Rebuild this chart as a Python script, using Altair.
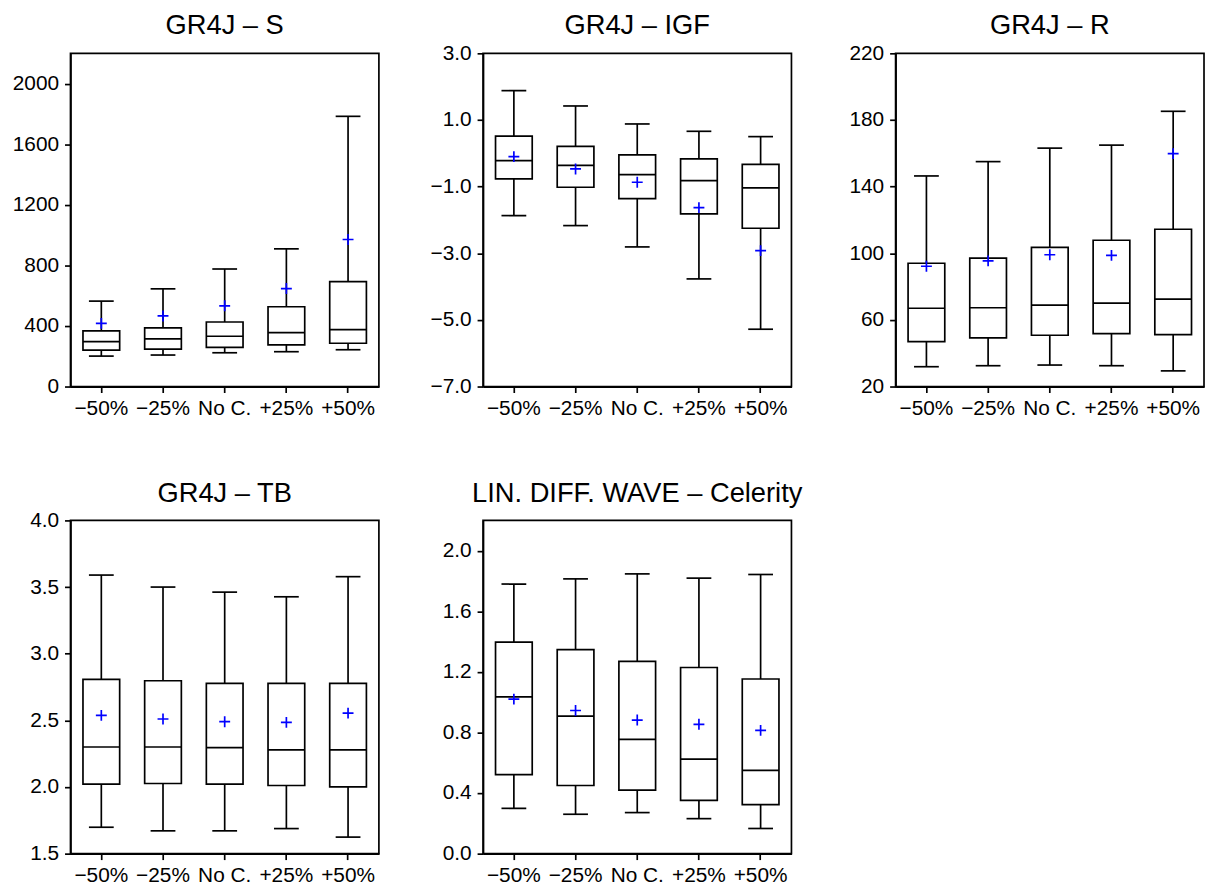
import altair as alt
import pandas as pd

categories = ["\u221250%", "\u221225%", "No C.", "+25%", "+50%"]

# GR4J – S
s_wlo = [201, 208, 223, 230, 243]
s_q1 = [240, 247, 258, 275, 286]
s_med = [297, 315, 332, 356, 376]
s_q3 = [367, 387, 426, 527, 693]
s_whi = [564, 645, 776, 909, 1784]
s_mean = [417, 466, 533, 647, 971]

# GR4J – IGF
igf_wlo = [-1.87, -2.17, -2.81, -3.77, -5.28]
igf_q1 = [-0.77, -1.02, -1.36, -1.82, -2.25]
igf_med = [-0.22, -0.36, -0.64, -0.82, -1.04]
igf_q3 = [0.515, 0.21, -0.05, -0.17, -0.33]
igf_whi = [1.88, 1.42, 0.88, 0.66, 0.50]
igf_mean = [-0.10, -0.47, -0.87, -1.63, -2.92]

# GR4J – R
r_wlo = [31.9, 32.5, 32.9, 32.5, 29.4]
r_q1 = [47.0, 49.2, 50.8, 51.8, 51.2]
r_med = [67.0, 67.3, 68.9, 70.1, 72.5]
r_q3 = [94.0, 97.1, 103.5, 107.8, 114.4]
r_whi = [146.4, 155.0, 163.1, 164.9, 185.2]
r_mean = [92.2, 95.4, 99.1, 98.7, 159.8]

# GR4J – TB
tb_wlo = [1.698, 1.671, 1.671, 1.688, 1.624]
tb_q1 = [2.021, 2.026, 2.021, 2.011, 2.001]
tb_med = [2.30, 2.30, 2.296, 2.279, 2.279]
tb_q3 = [2.807, 2.797, 2.777, 2.777, 2.777]
tb_whi = [3.59, 3.50, 3.462, 3.427, 3.578]
tb_mean = [2.537, 2.51, 2.49, 2.485, 2.554]

# LIN. DIFF. WAVE – Celerity
c_wlo = [0.299, 0.26, 0.271, 0.231, 0.166]
c_q1 = [0.522, 0.45, 0.419, 0.352, 0.323]
c_med = [1.035, 0.908, 0.755, 0.624, 0.550]
c_q3 = [1.397, 1.347, 1.269, 1.229, 1.153]
c_whi = [1.78, 1.814, 1.847, 1.819, 1.843]
c_mean = [1.02, 0.945, 0.882, 0.854, 0.814]

FONT = "Liberation Sans"
PW, PH = 311, 336
LW = 1.7
LFS = 21


def panel(title, wlo, q1, med, q3, whi, mean, domain, ticks, fmt):
    df = pd.DataFrame({"cat": categories, "wlo": wlo, "q1": q1, "med": med,
                       "q3": q3, "whi": whi, "mean": mean})
    x = alt.X("cat:N", sort=categories, title=None,
              scale=alt.Scale(paddingInner=0, paddingOuter=0),
              axis=alt.Axis(labelAngle=0, labelFontSize=LFS, labelFont=FONT,
                            labelColor="black", tickColor="black", domainColor="black",
                            tickSize=6, tickWidth=LW, domainWidth=LW, labelPadding=5,
                            minExtent=36, maxExtent=36))
    yscale = alt.Scale(domain=domain, nice=False, zero=False)
    yaxis = alt.Axis(values=ticks, format=fmt, grid=False, labelFontSize=LFS,
                     labelFont=FONT, labelColor="black", tickColor="black",
                     domainColor="black", tickSize=6, tickWidth=LW, domainWidth=LW,
                     labelPadding=6, minExtent=62, maxExtent=62)
    base = alt.Chart(df)
    whisk = base.mark_rule(color="black", strokeWidth=LW, opacity=1).encode(
        x=x, y=alt.Y("wlo:Q", scale=yscale, axis=yaxis, title=None), y2="whi:Q")
    box = base.mark_bar(size=37, fill="white", stroke="black", strokeWidth=LW,
                        opacity=1).encode(x=x, y=alt.Y("q1:Q"), y2="q3:Q")
    medt = base.mark_tick(size=37, thickness=LW, color="black", opacity=1).encode(
        x=x, y="med:Q")
    capl = base.mark_tick(size=25, thickness=LW, color="black", opacity=1).encode(
        x=x, y="wlo:Q")
    caph = base.mark_tick(size=25, thickness=LW, color="black", opacity=1).encode(
        x=x, y="whi:Q")
    meanp = base.mark_point(shape="M-1,0L1,0M0,-1L0,1", size=121, filled=False,
                            color="blue", strokeWidth=LW, opacity=1).encode(x=x, y="mean:Q")
    ttl = alt.Chart(pd.DataFrame({"t": [title]})).mark_text(
        fontSize=27.5, font=FONT, color="black", align="center", baseline="alphabetic"
    ).encode(x=alt.value(PW / 2), y=alt.value(-19), text="t:N")
    return alt.layer(whisk, box, medt, capl, caph, meanp, ttl).properties(
        width=PW, height=PH)


p1 = panel("GR4J \u2013 S", s_wlo, s_q1, s_med, s_q3, s_whi, s_mean,
           [0, 2200], [0, 400, 800, 1200, 1600, 2000], "d")
p2 = panel("GR4J \u2013 IGF", igf_wlo, igf_q1, igf_med, igf_q3, igf_whi, igf_mean,
           [-7, 3], [-7, -5, -3, -1, 1, 3], ".1f")
p3 = panel("GR4J \u2013 R", r_wlo, r_q1, r_med, r_q3, r_whi, r_mean,
           [20, 220], [20, 60, 100, 140, 180, 220], "d")
p4 = panel("GR4J \u2013 TB", tb_wlo, tb_q1, tb_med, tb_q3, tb_whi, tb_mean,
           [1.5, 4.0], [1.5, 2.0, 2.5, 3.0, 3.5, 4.0], ".1f")
p5 = panel("LIN. DIFF. WAVE \u2013 Celerity", c_wlo, c_q1, c_med, c_q3, c_whi, c_mean,
           [0, 2.2], [0.0, 0.4, 0.8, 1.2, 1.6, 2.0], ".1f")

row1 = alt.hconcat(p1, p2, p3, spacing=41)
row2 = alt.hconcat(p4, p5, spacing=41)
chart = alt.vconcat(row1, row2, spacing=56).properties(
    padding={"left": 0, "top": 0, "right": 0, "bottom": 0}
).configure(background="white").configure_view(stroke="black", strokeWidth=LW)

chart.save("out.html", embed_options={"renderer": "svg", "actions": False})
